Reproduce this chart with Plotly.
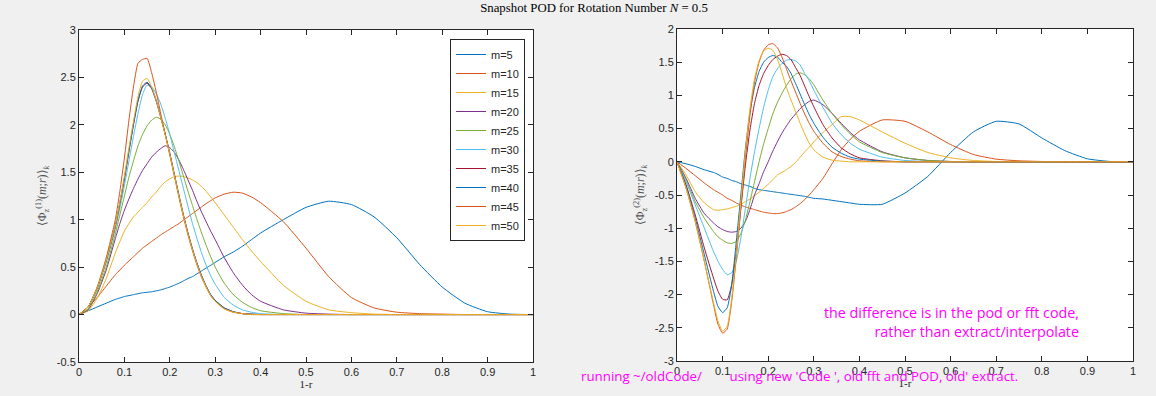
import plotly.graph_objects as go

# ---------------- data ----------------
m_labels = ["m=5", "m=10", "m=15", "m=20", "m=25", "m=30", "m=35", "m=40", "m=45", "m=50"]
colors = ["#0072BD", "#D95319", "#EDB120", "#7E2F8E", "#77AC30",
          "#4DBEEE", "#A2142F", "#0072BD", "#D95319", "#EDB120"]

# radial coordinate 1-r (shared sample positions)
x_r = [0, 0.02, 0.04, 0.06, 0.08, 0.09, 0.10, 0.11, 0.12, 0.13, 0.14, 0.15, 0.16,
       0.17, 0.18, 0.19, 0.20, 0.21, 0.22, 0.23, 0.24, 0.25, 0.26, 0.27, 0.28,
       0.29, 0.30, 0.32, 0.34, 0.36, 0.38, 0.40, 0.45, 0.50, 0.55, 0.60, 0.65,
       0.70, 0.75, 0.80, 0.85, 0.90, 0.95, 1.0]

# left panel: <Phi_z^(1)(m;r)>_k
phi1_m5 = [0, .04, .08, .12, .16, .175, .19, .20, .21, .22, .23, .235, .24, .25, .26,
           .275, .29, .31, .33, .355, .38, .40, .43, .46, .49, .52, .55, .61, .66, .72,
           .79, .86, 1.0, 1.13, 1.195, 1.16, 1.03, .81, .53, .29, .12, .03, .005, 0]
phi1_m10 = [0, .08, .18, .30, .42, .47, .52, .565, .61, .655, .70, .735, .77, .805, .84,
            .87, .90, .93, .96, .995, 1.03, 1.065, 1.10, 1.135, 1.17, 1.20, 1.23, 1.27,
            1.29, 1.28, 1.24, 1.18, .98, .70, .40, .18, .07, .025, .01, .005, 0, 0, 0, 0]
phi1_m15 = [0, .04, .17, .38, .65, .77, .88, .96, 1.03, 1.08, 1.13, 1.18, 1.24, 1.29,
            1.35, 1.40, 1.43, 1.455, 1.46, 1.455, 1.44, 1.42, 1.39, 1.35, 1.30, 1.24,
            1.18, 1.05, .92, .79, .67, .56, .31, .14, .05, .02, .005, 0, 0, 0, 0, 0, 0, 0]
phi1_m20 = [0, .05, .22, .47, .80, .96, 1.10, 1.22, 1.33, 1.43, 1.52, 1.59, 1.66, 1.71,
            1.75, 1.78, 1.76, 1.71, 1.63, 1.53, 1.42, 1.31, 1.19, 1.08, .98, .88, .79,
            .60, .44, .31, .21, .14, .05, .015, .005, 0, 0, 0, 0, 0, 0, 0, 0, 0]
phi1_m25 = [0, .06, .24, .50, .85, 1.05, 1.25, 1.45, 1.62, 1.78, 1.90, 1.99, 2.05, 2.08,
            2.06, 2.00, 1.90, 1.77, 1.62, 1.46, 1.30, 1.15, 1.00, .86, .73, .61, .50,
            .33, .21, .13, .075, .04, .01, 0, 0, 0, 0, 0, 0, 0, 0, 0, 0, 0]
phi1_m30 = [0, .08, .27, .55, .90, 1.12, 1.36, 1.62, 1.88, 2.12, 2.32, 2.42, 2.40, 2.33,
            2.22, 2.07, 1.90, 1.71, 1.52, 1.33, 1.14, .96, .80, .65, .52, .41, .32, .18,
            .10, .05, .025, .01, 0, 0, 0, 0, 0, 0, 0, 0, 0, 0, 0, 0]
phi1_m35 = [0, .08, .28, .57, .93, 1.17, 1.43, 1.72, 2.00, 2.25, 2.40, 2.44, 2.38, 2.25,
            2.08, 1.90, 1.70, 1.48, 1.26, 1.05, .86, .69, .54, .41, .30, .21, .15, .07,
            .03, .01, .005, 0, 0, 0, 0, 0, 0, 0, 0, 0, 0, 0, 0, 0]
phi1_m40 = [0, .08, .28, .57, .94, 1.18, 1.44, 1.73, 2.01, 2.26, 2.41, 2.45, 2.39, 2.26,
            2.09, 1.90, 1.70, 1.48, 1.26, 1.05, .86, .69, .54, .41, .30, .21, .15, .07,
            .03, .01, .005, 0, 0, 0, 0, 0, 0, 0, 0, 0, 0, 0, 0, 0]
phi1_m45 = [0, .08, .29, .60, 1.00, 1.30, 1.65, 2.05, 2.40, 2.65, 2.69, 2.70, 2.55, 2.35,
            2.12, 1.90, 1.68, 1.46, 1.24, 1.03, .84, .67, .52, .39, .29, .20, .14, .06,
            .025, .01, 0, 0, 0, 0, 0, 0, 0, 0, 0, 0, 0, 0, 0, 0]
phi1_m50 = [0, .08, .28, .57, .94, 1.19, 1.46, 1.76, 2.04, 2.30, 2.46, 2.49, 2.40, 2.26,
            2.08, 1.89, 1.69, 1.47, 1.25, 1.04, .85, .68, .53, .40, .29, .20, .14, .06,
            .025, .01, 0, 0, 0, 0, 0, 0, 0, 0, 0, 0, 0, 0, 0, 0]

# right panel: <Phi_z^(2)(m;r)>_k
phi2_m5 = [0, -.03, -.07, -.12, -.16, -.19, -.23, -.25, -.28, -.30, -.33, -.35, -.37,
           -.40, -.42, -.43, -.44, -.45, -.46, -.47, -.48, -.49, -.50, -.51, -.52, -.535,
           -.55, -.56, -.58, -.60, -.62, -.64, -.64, -.47, -.22, .14, .45, .61, .57, .36,
           .17, .045, .005, 0]
phi2_m10 = [0, -.10, -.21, -.32, -.42, -.46, -.50, -.55, -.58, -.62, -.65, -.68, -.70,
            -.72, -.74, -.76, -.77, -.78, -.78, -.77, -.75, -.72, -.68, -.63, -.57, -.50,
            -.42, -.25, -.03, .18, .34, .46, .63, .61, .45, .26, .11, .04, .015, .005, 0,
            0, 0, 0]
phi2_m15 = [0, -.20, -.45, -.62, -.72, -.73, -.72, -.71, -.69, -.67, -.64, -.60, -.56,
            -.51, -.46, -.40, -.34, -.27, -.20, -.16, -.12, -.07, -.01, .07, .15, .22,
            .30, .44, .56, .68, .68, .63, .45, .28, .14, .06, .02, .005, 0, 0, 0, 0, 0, 0]
phi2_m20 = [0, -.25, -.55, -.78, -.92, -.98, -1.02, -1.05, -1.06, -1.05, -1.00, -.90,
            -.72, -.50, -.33, -.15, .00, .16, .30, .43, .54, .64, .72, .80, .86, .91, .93,
            .86, .73, .58, .44, .33, .15, .06, .02, .005, 0, 0, 0, 0, 0, 0, 0, 0]
phi2_m25 = [0, -.27, -.60, -.85, -1.05, -1.13, -1.18, -1.22, -1.23, -1.20, -1.08, -.88,
            -.60, -.30, .00, .27, .50, .72, .89, 1.03, 1.15, 1.25, 1.32, 1.34, 1.31, 1.25,
            1.16, .93, .73, .56, .42, .30, .14, .06, .02, .005, 0, 0, 0, 0, 0, 0, 0, 0]
phi2_m30 = [0, -.30, -.65, -1.00, -1.35, -1.50, -1.62, -1.70, -1.67, -1.50, -1.15, -.70,
            -.25, .15, .50, .82, 1.08, 1.28, 1.40, 1.48, 1.53, 1.54, 1.52, 1.46, 1.33,
            1.22, 1.08, .82, .58, .41, .28, .19, .07, .02, .005, 0, 0, 0, 0, 0, 0, 0, 0, 0]
phi2_m35 = [0, -.35, -.80, -1.30, -1.75, -1.95, -2.07, -2.08, -1.85, -1.35, -.70, -.05,
            .48, .88, 1.15, 1.33, 1.45, 1.54, 1.59, 1.62, 1.60, 1.54, 1.42, 1.30, 1.14,
            .98, .83, .56, .36, .21, .12, .06, .015, 0, 0, 0, 0, 0, 0, 0, 0, 0, 0, 0]
phi2_m40 = [0, -.37, -.85, -1.40, -1.95, -2.18, -2.27, -2.20, -1.85, -1.20, -.50, .20,
            .75, 1.12, 1.36, 1.50, 1.57, 1.60, 1.58, 1.50, 1.44, 1.33, 1.18, 1.02, .86,
            .71, .58, .37, .22, .13, .07, .04, .01, 0, 0, 0, 0, 0, 0, 0, 0, 0, 0, 0]
phi2_m45 = [0, -.40, -.90, -1.50, -2.15, -2.45, -2.58, -2.52, -2.10, -1.45, -.70, .05,
            .70, 1.20, 1.50, 1.68, 1.76, 1.78, 1.72, 1.58, 1.40, 1.22, 1.05, .88, .72, .58,
            .46, .28, .15, .08, .04, .015, 0, 0, 0, 0, 0, 0, 0, 0, 0, 0, 0, 0]
phi2_m50 = [0, -.40, -.90, -1.50, -2.12, -2.40, -2.55, -2.48, -2.05, -1.40, -.60, .15,
            .80, 1.25, 1.52, 1.67, 1.71, 1.68, 1.55, 1.34, 1.12, .93, .76, .58, .42, .28,
            .18, .07, .025, .01, 0, 0, 0, 0, 0, 0, 0, 0, 0, 0, 0, 0, 0, 0]

phi1_series = [phi1_m5, phi1_m10, phi1_m15, phi1_m20, phi1_m25,
               phi1_m30, phi1_m35, phi1_m40, phi1_m45, phi1_m50]
phi2_series = [phi2_m5, phi2_m10, phi2_m15, phi2_m20, phi2_m25,
               phi2_m30, phi2_m35, phi2_m40, phi2_m45, phi2_m50]

x_ticks = [0, 0.1, 0.2, 0.3, 0.4, 0.5, 0.6, 0.7, 0.8, 0.9, 1]
x_ticktext = ["0", "0.1", "0.2", "0.3", "0.4", "0.5", "0.6", "0.7", "0.8", "0.9", "1"]
y1_ticks = [-0.5, 0, 0.5, 1, 1.5, 2, 2.5, 3]
y1_ticktext = ["-0.5", "0", "0.5", "1", "1.5", "2", "2.5", "3"]
y2_ticks = [-3, -2.5, -2, -1.5, -1, -0.5, 0, 0.5, 1, 1.5, 2]
y2_ticktext = ["-3", "-2.5", "-2", "-1.5", "-1", "-0.5", "0", "0.5", "1", "1.5", "2"]

# ---------------- figure ----------------
W, H = 1156, 396
fig = go.Figure()

line_shape = dict(width=1, shape="spline", smoothing=0.5)
for name, col, ys in zip(m_labels, colors, phi1_series):
    fig.add_trace(go.Scatter(x=x_r, y=ys, mode="lines", name=name,
                             line=dict(color=col, **line_shape),
                             xaxis="x", yaxis="y"))
for name, col, ys in zip(m_labels, colors, phi2_series):
    fig.add_trace(go.Scatter(x=x_r, y=ys, mode="lines", name=name,
                             line=dict(color=col, **line_shape), showlegend=False,
                             xaxis="x2", yaxis="y2"))

axcol = "#262626"
tickfont = dict(family="Liberation Sans", size=11, color=axcol)
serif = "Liberation Serif"

common_x = dict(range=[0, 1], tickvals=x_ticks, ticktext=x_ticktext, ticks="inside",
                ticklen=5, tickcolor=axcol, showline=True, linecolor=axcol, linewidth=1,
                mirror="ticks", showgrid=False, zeroline=False, tickfont=tickfont,
                automargin=False,
                title=dict(text="1-r", font=dict(family=serif, size=11, color=axcol),
                           standoff=1))
common_y = dict(ticks="inside", ticklen=5, tickcolor=axcol, showline=True,
                linecolor=axcol, linewidth=1, mirror="ticks", showgrid=False,
                zeroline=False, tickfont=tickfont, automargin=False)

fig.update_layout(
    width=W, height=H,
    margin=dict(l=0, r=0, t=0, b=0, autoexpand=False),
    paper_bgcolor="#f0f0f0", plot_bgcolor="white",
    showlegend=True,
    title=dict(text="Snapshot POD for Rotation Number <i>N</i> = 0.5",
               font=dict(family=serif, size=12.8, color="#000000"),
               x=594 / W, xanchor="center", y=1 - 8 / H, yanchor="middle",
               automargin=False),
    xaxis=dict(domain=[79 / W, 533 / W], anchor="y", **common_x),
    yaxis=dict(domain=[1 - 362 / H, 1 - 30 / H], anchor="x", range=[-0.5, 3],
               tickvals=y1_ticks, ticktext=y1_ticktext,
               title=dict(text="⟨Φ<sub>z</sub><sup>(1)</sup>(<i>m</i>;<i>r</i>)⟩<sub><i>k</i></sub>",
                          font=dict(family=serif, size=12, color="#555555"), standoff=7),
               **common_y),
    xaxis2=dict(domain=[677 / W, 1133 / W], anchor="y2", **common_x),
    yaxis2=dict(domain=[1 - 361 / H, 1 - 29 / H], anchor="x2", range=[-3, 2],
                tickvals=y2_ticks, ticktext=y2_ticktext,
                title=dict(text="⟨Φ<sub>z</sub><sup>(2)</sup>(<i>m</i>;<i>r</i>)⟩<sub><i>k</i></sub>",
                           font=dict(family=serif, size=12, color="#555555"), standoff=7),
                **common_y),
    legend=dict(x=525 / W, xanchor="right", y=1 - 39 / H, yanchor="top",
                bgcolor="white", bordercolor=axcol, borderwidth=1,
                font=dict(family="Liberation Sans", size=11, color=axcol),
                tracegroupgap=0, itemwidth=30),
)

magenta = "#ff00ff"
fig.add_annotation(text="the difference is in the pod or fft code,<br>rather than extract/interpolate",
                   xref="paper", yref="paper", x=1081 / W, y=1 - 322 / H,
                   xanchor="right", yanchor="middle", align="right", showarrow=False,
                   font=dict(family="Open Sans", size=14.3, color=magenta))
fig.add_annotation(text="running ~/oldCode/" + "\u00a0" * 7 + " using new 'Code ', old fft and POD, old' extract.",
                   xref="paper", yref="paper", x=579 / W, y=1 - 376 / H,
                   xanchor="left", yanchor="middle", align="left", showarrow=False,
                   font=dict(family="Open Sans", size=13.3, color=magenta))

fig.write_html("out.html", config={"displayModeBar": False},
               post_script="document.body.style.margin='0px';document.body.style.overflow='hidden';")
